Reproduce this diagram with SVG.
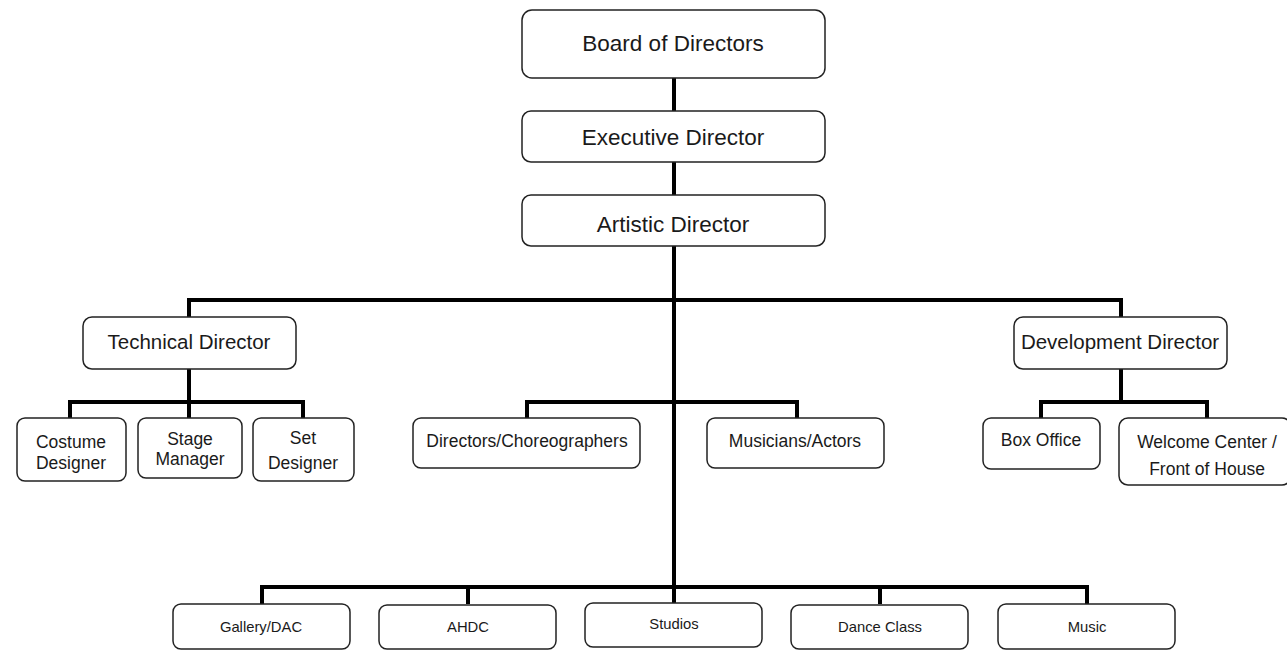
<svg xmlns="http://www.w3.org/2000/svg" width="1287" height="650" viewBox="0 0 1287 650">
<style>
.box{fill:#fff;stroke:#222;stroke-width:1.5}
.t{font-family:"Liberation Sans",Arial,sans-serif;fill:#1a1a1a;text-anchor:middle;dominant-baseline:central}
.l{font-size:22.5px}
.m{font-size:20.5px}
.s{font-size:17.5px}
.xs{font-size:14.8px}
.c{fill:none;stroke:#000;stroke-width:4}
</style>
<rect width="1287" height="650" fill="#fff"/>
<g id="connectors">
<path class="c" d="M674 78V111M674 162V195M674 246V604"/>
<path class="c" d="M189 317V300H1121V317"/>
<path class="c" d="M189 369V402M70 418V402H303V418M189 402V418"/>
<path class="c" d="M527 418V402H797V418"/>
<path class="c" d="M1121 369V402M1041 418V402H1207V418"/>
<path class="c" d="M262 604V587H1087V604M468 587V604M880 587V604"/>
</g>
<g id="board"><rect class="box" x="522" y="10" width="303" height="68" rx="10"/><text class="t l" x="673" y="43">Board of Directors</text></g>
<g id="executive"><rect class="box" x="522" y="111" width="303" height="51" rx="9"/><text class="t l" x="673" y="137">Executive Director</text></g>
<g id="artistic"><rect class="box" x="522" y="195" width="303" height="51" rx="9"/><text class="t l" x="673" y="224">Artistic Director</text></g>
<g id="technical"><rect class="box" x="83" y="317" width="213" height="52" rx="9"/><text class="t m" x="189" y="341">Technical Director</text></g>
<g id="development"><rect class="box" x="1014" y="317" width="213" height="52" rx="9"/><text class="t m" x="1120" y="341">Development Director</text></g>
<g id="costume"><rect class="box" x="17" y="418" width="109" height="63" rx="8"/><text class="t s" x="71" y="442">Costume</text><text class="t s" x="71" y="463">Designer</text></g>
<g id="stage"><rect class="box" x="138" y="418" width="104" height="60" rx="8"/><text class="t s" x="190" y="439">Stage</text><text class="t s" x="190" y="459">Manager</text></g>
<g id="set"><rect class="box" x="253" y="418" width="101" height="63" rx="8"/><text class="t s" x="303" y="438">Set</text><text class="t s" x="303" y="463">Designer</text></g>
<g id="directors"><rect class="box" x="413" y="418" width="227" height="50" rx="8"/><text class="t s" x="527" y="441">Directors/Choreographers</text></g>
<g id="musicians"><rect class="box" x="707" y="418" width="177" height="50" rx="8"/><text class="t s" x="795" y="441">Musicians/Actors</text></g>
<g id="boxoffice"><rect class="box" x="983" y="418" width="117" height="51" rx="8"/><text class="t s" x="1041" y="440">Box Office</text></g>
<g id="welcome"><rect class="box" x="1119" y="418" width="172" height="67" rx="9"/><text class="t s" x="1207" y="442">Welcome Center /</text><text class="t s" x="1207" y="469">Front of House</text></g>
<g id="gallery"><rect class="box" x="173" y="604" width="177" height="45" rx="8"/><text class="t xs" x="261" y="627">Gallery/DAC</text></g>
<g id="ahdc"><rect class="box" x="379" y="605" width="177" height="44" rx="8"/><text class="t xs" x="468" y="627">AHDC</text></g>
<g id="studios"><rect class="box" x="585" y="603" width="177" height="44" rx="8"/><text class="t xs" x="674" y="624">Studios</text></g>
<g id="danceclass"><rect class="box" x="791" y="605" width="177" height="44" rx="8"/><text class="t xs" x="880" y="627">Dance Class</text></g>
<g id="music"><rect class="box" x="998" y="604" width="177" height="45" rx="8"/><text class="t xs" x="1087" y="627">Music</text></g>
</svg>
